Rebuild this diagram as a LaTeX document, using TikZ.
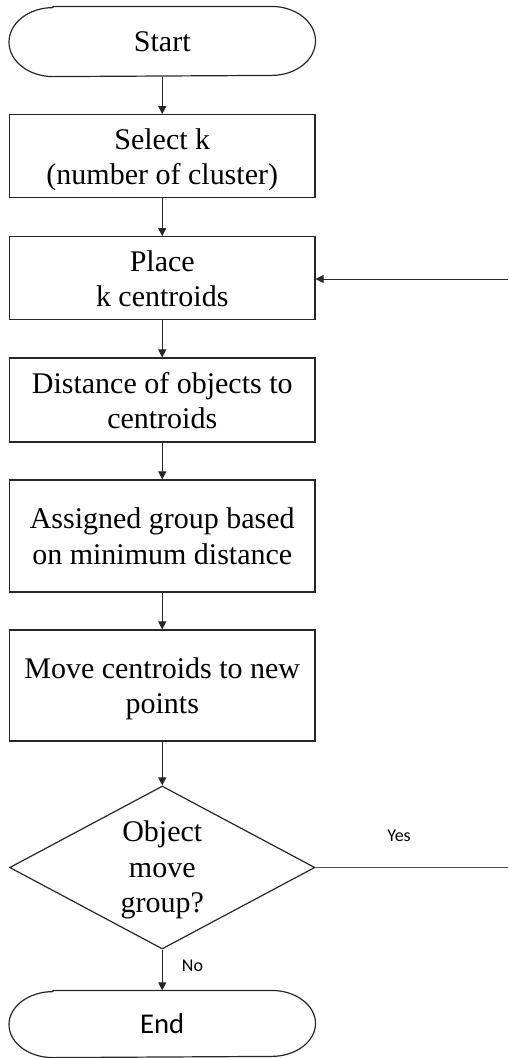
\documentclass[tikz,border=0pt]{standalone}
\usepackage{fontspec}
\setmainfont{Liberation Serif}
\newfontfamily\calibfont{Carlito}
\usetikzlibrary{shapes.geometric,arrows.meta}
% invisible rules that fix the height of the first line and the depth of the last
\newcommand\lineTop[1]{\rule{0pt}{#1}}
\newcommand\lineBot{\rule[-5.5pt]{0pt}{5.5pt}}
\begin{document}
\begin{tikzpicture}[x=0.75pt,y=-0.75pt,
  base/.style={line width=0.9pt, minimum width=229pt, inner sep=0pt,
    align=center, font=\fontsize{22.5}{26.5}\selectfont},
  procbox/.style={base, draw=black!85, rectangle},
  term/.style={base, rectangle},
  decide/.style={base, draw=black!85, diamond, aspect=1.87},
  outline/.style={draw=black!85, line width=0.9pt},
  flow/.style={draw=black!85, line width=0.75pt, -{Triangle[length=6pt,width=6pt]}},
  plain/.style={draw=black!70, line width=0.75pt},
  lbl/.style={font=\calibfont\fontsize{13.5}{16}\selectfont, inner sep=0pt}
]
\useasboundingbox (0,0) rectangle (508,1058);

% main column of the flowchart
\node[term, minimum height=51.75pt] (start) at (162.25,41.5) {Start};
\node[procbox, minimum height=62pt] (select) at (162.25,156) {\lineTop{22pt}Select k\\(number of cluster)\lineBot};
\node[procbox, minimum height=62pt] (place) at (162.25,278) {\lineTop{22pt}Place\\k centroids\lineBot};
\node[procbox, minimum height=63pt] (dist) at (162.25,400) {\lineTop{22pt}Distance of objects to\\centroids\lineBot};
\node[procbox, minimum height=84pt] (assign) at (162.25,536) {\lineTop{21pt}Assigned group based\\on minimum distance\lineBot};
\node[procbox, minimum height=83.25pt] (move) at (162.25,685.5) {\lineTop{21.5pt}Move centroids to new\\points\lineBot};
\node[decide, minimum height=122.25pt] (dec) at (162.25,867.5) {\lineTop{20pt}Object\\move\\group?\lineBot};
\node[term, minimum height=49.5pt, font=\calibfont\fontsize{21.5}{26}\selectfont] (end) at (162.25,1024) {End};

% terminator outlines with elliptical ends
\draw[outline] ([xshift=33pt]start.north west) -- ([xshift=-33pt]start.north east)
  arc[start angle=90, end angle=-90, x radius=33pt, y radius=25.875pt]
  -- ([xshift=33pt]start.south west)
  arc[start angle=270, end angle=90, x radius=33pt, y radius=25.875pt] -- cycle;
\draw[outline] ([xshift=33pt]end.north west) -- ([xshift=-33pt]end.north east)
  arc[start angle=90, end angle=-90, x radius=33pt, y radius=24.75pt]
  -- ([xshift=33pt]end.south west)
  arc[start angle=270, end angle=90, x radius=33pt, y radius=24.75pt] -- cycle;

% loop-back ends at the right margin
\coordinate (yesend) at (508,867.5);
\coordinate (loopin) at (508,279);

% connectors
\draw[flow] (start) -- (select);
\draw[flow] (select) -- (place);
\draw[flow] (place) -- (dist);
\draw[flow] (dist) -- (assign);
\draw[flow] (assign) -- (move);
\draw[flow] (move) -- (dec);
\draw[flow] (dec) -- (end);
\draw[plain] (dec.east) -- (yesend);
\draw[flow] (loopin) -- (loopin -| place.east);

% branch labels
\node[lbl] (yes) at (399,836) {Yes};
\node[lbl] (no) at (192.5,966) {No};
\end{tikzpicture}
\end{document}
